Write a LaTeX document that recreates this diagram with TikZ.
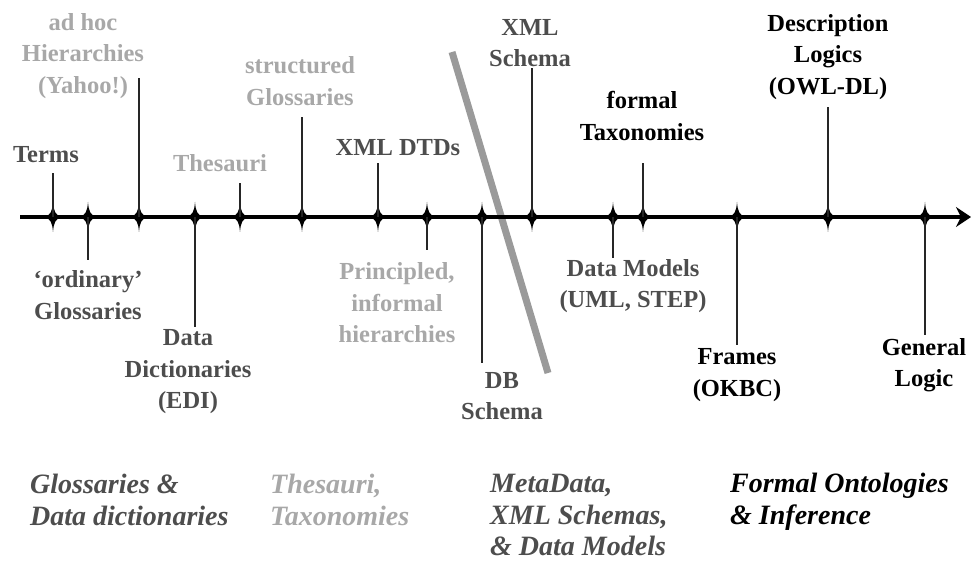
\documentclass[tikz,border=0pt]{standalone}
\usepackage{fontspec}
\setmainfont{Liberation Serif}
\usetikzlibrary{arrows.meta}
\definecolor{dk}{HTML}{4D4D4D}
\definecolor{lt}{HTML}{A8A8A8}
\definecolor{sl}{HTML}{9A9A9A}
\begin{document}
\begin{tikzpicture}[x=1pt,y=-1pt,
  lab/.style={font=\fontsize{24.5}{31.5}\selectfont\bfseries, align=center, inner sep=0pt},
  cat/.style={font=\fontsize{28}{31.5}\selectfont\bfseries\itshape, align=left, inner sep=0pt, anchor=west},
  conn/.style={draw=black!85, line width=1.3pt},
  axisline/.style={line width=4pt, -{Stealth[length=15pt,width=20pt,inset=5pt]}},
  slash/.style={draw=sl, line width=7pt},
  tickstar/.pic={\fill (0,-15) .. controls (0.8,-5) and (2.5,-2.5) .. (8,0)
        .. controls (2.5,2.5) and (0.8,5) .. (0,15)
        .. controls (-0.8,5) and (-2.5,2.5) .. (-8,0)
        .. controls (-2.5,-2.5) and (-0.8,-5) .. cycle;}]
\useasboundingbox (0,0) rectangle (972,561);

% slash
\coordinate (s0) at (452,52);
\coordinate (s1) at (548,373);
\draw[slash] (s0) -- (s1);

% axis
\coordinate (a0) at (20,217);
\coordinate (a1) at (971,217);
\draw[axisline] (a0) -- (a1);

% ticks
\foreach \n/\x in {t1/53,t2/88,t3/139,t4/195,t5/240,t6/302,t7/378,t8/427,t9/482,t10/532,t11/613,t12/643,t13/737,t14/828,t15/925}{
  \coordinate (\n) at (\x,217);
  \pic at (\n) {tickstar};
}

% connector ends
\coordinate (e1) at (53,173);
\coordinate (e2) at (88,260);
\coordinate (e3) at (139,78);
\coordinate (e4) at (195,327);
\coordinate (e5) at (240,183);
\coordinate (e6) at (302,117);
\coordinate (e7) at (378,163);
\coordinate (e8) at (427,250);
\coordinate (e9) at (482,363);
\coordinate (e10) at (532,68);
\coordinate (e11) at (613,258);
\coordinate (e12) at (643,163);
\coordinate (e13) at (737,345);
\coordinate (e14) at (828,107);
\coordinate (e15) at (925,335);
\foreach \i in {1,...,15}{\draw[conn] (t\i) -- (e\i);}

% labels above
\node[lab, text=dk] (l1) at (46,155) {Terms};
\node[lab, text=lt] (l3) at (83,56) {ad hoc\\Hierarchies\\(Yahoo!)};
\node[lab, text=lt] (l5) at (220,163) {Thesauri};
\node[lab, text=lt] (l6) at (300,81) {structured\\Glossaries};
\node[lab, text=dk] (l7) at (398,148) {XML DTDs};
\node[lab, text=dk] (l10) at (530,43) {XML\\Schema};
\node[lab, text=black] (l12) at (642,116) {formal\\Taxonomies};
\node[lab, text=black] (l14) at (828,57) {Description\\Logics\\(OWL-DL)};

% labels below
\node[lab, text=dk] (l2) at (88,295) {‘ordinary’\\Glossaries};
\node[lab, text=dk] (l4) at (188,372) {Data\\Dictionaries\\(EDI)};
\node[lab, text=lt] (l8) at (397,303) {Principled,\\informal\\hierarchies};
\node[lab, text=dk] (l9) at (502,396) {DB\\Schema};
\node[lab, text=dk] (l11) at (633,286) {Data Models\\(UML, STEP)};
\node[lab, text=black] (l13) at (737,375) {Frames\\(OKBC)};
\node[lab, text=black] (l15) at (924,365) {General\\Logic};

% categories
\node[cat, text=dk] (c1) at (30,500) {Glossaries \&\\Data dictionaries};
\node[cat, text=lt] (c2) at (270,500) {Thesauri,\\Taxonomies};
\node[cat, text=dk] (c3) at (490,515) {MetaData,\\XML Schemas,\\\& Data Models};
\node[cat, text=black] (c4) at (730,502) {Formal Ontologies\\\& Inference};
\end{tikzpicture}
\end{document}
